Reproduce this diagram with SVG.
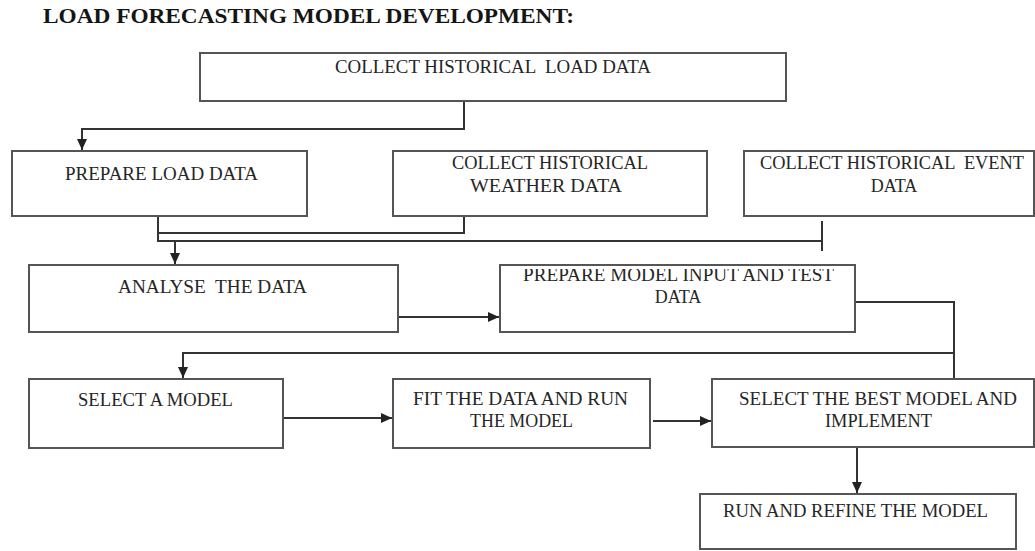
<svg xmlns="http://www.w3.org/2000/svg" width="1035" height="551" viewBox="0 0 1035 551">
  <style>
    .box { fill: #ffffff; stroke: #555555; stroke-width: 2; }
    .lbl { font-family: "Liberation Serif", "Times New Roman", serif; font-size: 18px; fill: #262626; white-space: pre; }
    .title { font-family: "Liberation Serif", "Times New Roman", serif; font-size: 22px; font-weight: bold; fill: #151515; }
    .conn { fill: none; stroke: #333333; stroke-width: 2; }
  </style>
  <defs>
    <marker id="arr" markerUnits="userSpaceOnUse" markerWidth="12" markerHeight="12" refX="11" refY="6" orient="auto">
      <path d="M0,1 L11,6 L0,11 z" fill="#222222"/>
    </marker>
    <clipPath id="clipPM">
      <rect x="500" y="269" width="355" height="62"/>
    </clipPath>
  </defs>
  <rect width="1035" height="551" fill="#ffffff"/>

  <text class="title" x="43" y="23" textLength="531" lengthAdjust="spacingAndGlyphs">LOAD FORECASTING MODEL DEVELOPMENT:</text>

  <g id="connectors">
    <path class="conn" d="M464,101 V129 H82 V150" marker-end="url(#arr)"/>
    <path class="conn" d="M158,216 V241 H822"/>
    <path class="conn" d="M464,216 V233 H158"/>
    <path class="conn" d="M822,221 V251"/>
    <path class="conn" d="M175,241 V264" marker-end="url(#arr)"/>
    <path class="conn" d="M398,317 H499" marker-end="url(#arr)"/>
    <path class="conn" d="M855,302 H954 V379"/>
    <path class="conn" d="M954,353 H183 V378" marker-end="url(#arr)"/>
    <path class="conn" d="M283,418 H392" marker-end="url(#arr)"/>
    <path class="conn" d="M653,421 H711" marker-end="url(#arr)"/>
    <path class="conn" d="M857,447 V493" marker-end="url(#arr)"/>
  </g>

  <g id="collect-load">
    <rect class="box" x="200" y="53" width="586" height="48"/>
    <text class="lbl" x="335" y="73" textLength="316" lengthAdjust="spacingAndGlyphs">COLLECT HISTORICAL  LOAD DATA</text>
  </g>
  <g id="prepare-load">
    <rect class="box" x="12" y="151" width="295" height="65"/>
    <text class="lbl" x="65" y="180" textLength="193" lengthAdjust="spacingAndGlyphs">PREPARE LOAD DATA</text>
  </g>
  <g id="collect-weather">
    <rect class="box" x="393" y="151" width="314" height="65"/>
    <text class="lbl" x="452" y="169" textLength="196" lengthAdjust="spacingAndGlyphs">COLLECT HISTORICAL</text>
    <text class="lbl" x="470" y="192" textLength="152" lengthAdjust="spacingAndGlyphs">WEATHER DATA</text>
  </g>
  <g id="collect-event">
    <rect class="box" x="744" y="151" width="290" height="65"/>
    <text class="lbl" x="760" y="169" textLength="264" lengthAdjust="spacingAndGlyphs">COLLECT HISTORICAL  EVENT</text>
    <text class="lbl" x="894" y="192" text-anchor="middle">DATA</text>
  </g>
  <g id="analyse">
    <rect class="box" x="29" y="265" width="369" height="67"/>
    <text class="lbl" x="118" y="293" textLength="189" lengthAdjust="spacingAndGlyphs">ANALYSE  THE DATA</text>
  </g>
  <g id="prepare-model">
    <rect class="box" x="500" y="265" width="355" height="67"/>
    <text class="lbl" x="523" y="281" textLength="311" lengthAdjust="spacingAndGlyphs" clip-path="url(#clipPM)">PREPARE MODEL INPUT AND TEST</text>
    <text class="lbl" x="678" y="303" text-anchor="middle">DATA</text>
  </g>
  <g id="select-model">
    <rect class="box" x="29" y="379" width="254" height="69"/>
    <text class="lbl" x="78" y="406" textLength="155" lengthAdjust="spacingAndGlyphs">SELECT A MODEL</text>
  </g>
  <g id="fit-data">
    <rect class="box" x="393" y="379" width="257" height="69"/>
    <text class="lbl" x="413" y="405" textLength="215" lengthAdjust="spacingAndGlyphs">FIT THE DATA AND RUN</text>
    <text class="lbl" x="470" y="427" textLength="103" lengthAdjust="spacingAndGlyphs">THE MODEL</text>
  </g>
  <g id="select-best">
    <rect class="box" x="712" y="379" width="322" height="68"/>
    <text class="lbl" x="739" y="405" textLength="278" lengthAdjust="spacingAndGlyphs">SELECT THE BEST MODEL AND</text>
    <text class="lbl" x="825" y="427" textLength="107" lengthAdjust="spacingAndGlyphs">IMPLEMENT</text>
  </g>
  <g id="run-refine">
    <rect class="box" x="700" y="494" width="316" height="55"/>
    <text class="lbl" x="723" y="517" textLength="265" lengthAdjust="spacingAndGlyphs">RUN AND REFINE THE MODEL</text>
  </g>
</svg>
